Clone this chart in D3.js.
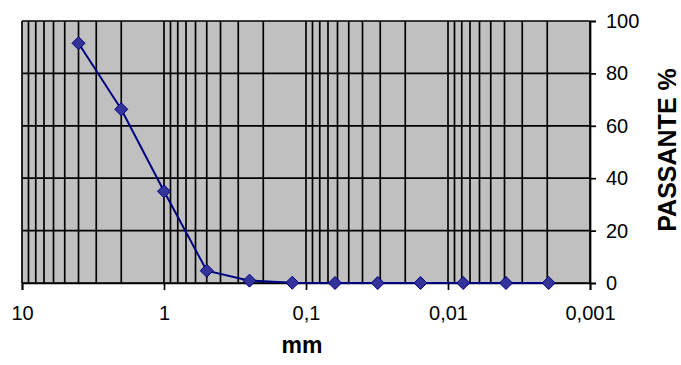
<!DOCTYPE html>
<html>
<head>
<meta charset="utf-8">
<script src="https://cdn.jsdelivr.net/npm/d3@7/dist/d3.min.js"></script>
<style>
  html, body { margin: 0; padding: 0; background: #fff; }
  svg { display: block; font-family: "Liberation Sans", Arial, sans-serif; }
</style>
</head>
<body>
<svg id="chart" width="681" height="365"></svg>
<script>
// Sieve openings (mm) and cumulative percent passing
const sieveSizes = [4, 2, 1, 0.5, 0.25, 0.125, 0.0625, 0.03125, 0.015625, 0.0078125, 0.00390625, 0.001953125];
const passing = [91.5, 66.3, 35, 4.7, 0.9, 0.1, 0, 0, 0, 0, 0, 0];
const xTickValues = [10, 1, 0.1, 0.01, 0.001];
const xTickLabels = ["10", "1", "0,1", "0,01", "0,001"];
const yTickValues = [0, 20, 40, 60, 80, 100];

const svg = d3.select("#chart");
const plotLeft = 22, plotRight = 590, plotTop = 21, plotBottom = 283;
const fontFamily = "'Liberation Sans', Arial, sans-serif";

const x = d3.scaleLog().domain([10, 0.001]).range([plotLeft, plotRight]);
const y = d3.scaleLinear().domain([0, 100]).range([plotBottom, plotTop]);

// Plot area
svg.append("rect")
  .attr("x", plotLeft).attr("y", plotTop)
  .attr("width", plotRight - plotLeft).attr("height", plotBottom - plotTop)
  .attr("fill", "#c0c0c0");

// Vertical grid: every 1..9 x 10^k within the domain
const gridX = [];
for (let e = 0; e >= -3; e--) {
  for (let m = 1; m <= 9; m++) {
    const v = m * Math.pow(10, e);
    if (v <= 10 && v >= 0.001) gridX.push(v);
  }
}
gridX.push(10);
svg.append("g").selectAll("line").data(gridX).join("line")
  .attr("x1", d => x(d)).attr("x2", d => x(d))
  .attr("y1", plotTop).attr("y2", plotBottom)
  .attr("stroke", "#000").attr("stroke-width", 1.7);

// Horizontal grid
svg.append("g").selectAll("line").data(yTickValues).join("line")
  .attr("x1", plotLeft).attr("x2", plotRight)
  .attr("y1", d => y(d)).attr("y2", d => y(d))
  .attr("stroke", "#000").attr("stroke-width", 1.7);

// X axis (bottom)
const xAxis = d3.axisBottom(x)
  .tickValues(xTickValues)
  .tickFormat((d, i) => xTickLabels[i])
  .tickSize(7).tickPadding(16);
const gx = svg.append("g").attr("transform", `translate(0,${plotBottom})`).call(xAxis);
gx.select(".domain").attr("stroke", "#000").attr("stroke-width", 1.7);
gx.selectAll(".tick line").attr("stroke", "#000").attr("stroke-width", 1.7);
gx.selectAll(".tick text").attr("font-size", 20).attr("fill", "#000")
  .attr("font-family", fontFamily);

// Y axis (right)
const yAxis = d3.axisRight(y)
  .tickValues(yTickValues)
  .tickSize(6).tickPadding(10);
const gy = svg.append("g").attr("transform", `translate(${plotRight},0)`).call(yAxis);
gy.select(".domain").attr("stroke", "#000").attr("stroke-width", 1.7);
gy.selectAll(".tick line").attr("stroke", "#000").attr("stroke-width", 1.7);
gy.selectAll(".tick text").attr("font-size", 20).attr("fill", "#000")
  .attr("font-family", fontFamily);

// Axis titles
svg.append("text")
  .attr("x", 302).attr("y", 353)
  .attr("text-anchor", "middle")
  .attr("font-family", fontFamily)
  .attr("font-size", 23).attr("font-weight", "bold")
  .text("mm");

svg.append("text")
  .attr("transform", "translate(676,150) rotate(-90)")
  .attr("text-anchor", "middle")
  .attr("font-family", fontFamily)
  .attr("font-size", 25).attr("font-weight", "bold")
  .text("PASSANTE %");

// Grading curve
const pts = sieveSizes.map((s, i) => [s, passing[i]]);
svg.append("path")
  .datum(pts)
  .attr("fill", "none")
  .attr("stroke", "#000080")
  .attr("stroke-width", 2)
  .attr("d", d3.line().x(d => x(d[0])).y(d => y(d[1])));

svg.append("g").selectAll("path").data(pts).join("path")
  .attr("transform", d => `translate(${x(d[0])},${y(d[1])})`)
  .attr("d", "M0,-6.5L6.5,0L0,6.5L-6.5,0Z")
  .attr("fill", "#333399")
  .attr("stroke", "#000080")
  .attr("stroke-width", 1);
</script>
</body>
</html>
